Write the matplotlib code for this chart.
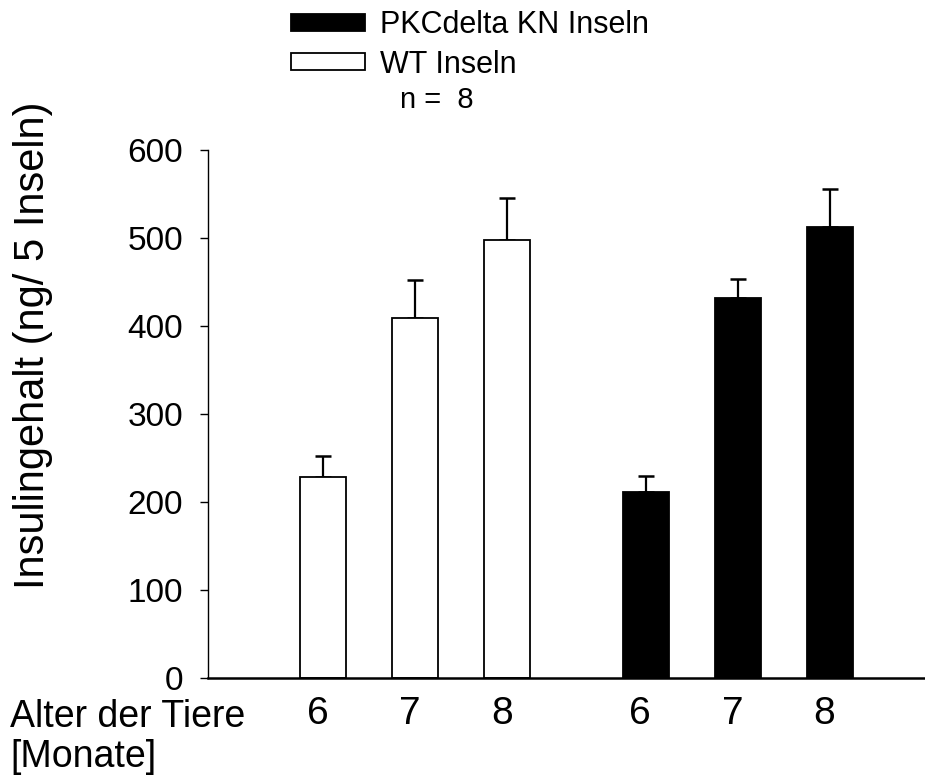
import numpy as np
import matplotlib
matplotlib.use("Agg")
import matplotlib.pyplot as plt

plt.rcParams['font.family'] = ['Liberation Sans', 'DejaVu Sans']

ages = ['6', '7', '8']
wt_means = [228, 409, 498]
wt_sem = [24, 43, 47]
kn_means = [211, 432, 513]
kn_sem = [18, 21, 43]

x_wt = np.arange(3)
x_kn = np.arange(3) + 3.5
bar_w = 0.5

fig = plt.figure(figsize=(9.25, 7.81), dpi=100)
ax = fig.add_axes([208/925, 103/781, 717/925, 528/781])

wt_bars = ax.bar(x_wt, wt_means, width=bar_w, color='white', edgecolor='black',
                 linewidth=1.3, label='WT Inseln', zorder=2)
kn_bars = ax.bar(x_kn, kn_means, width=bar_w, color='black', edgecolor='black',
                 linewidth=1.3, label='PKCdelta KN Inseln', zorder=2)
ax.errorbar(x_wt, wt_means, yerr=[np.zeros(3), wt_sem], fmt='none', ecolor='black',
            elinewidth=1.6, capsize=5.5, capthick=1.8, zorder=1)
ax.errorbar(x_kn, kn_means, yerr=[np.zeros(3), kn_sem], fmt='none', ecolor='black',
            elinewidth=1.6, capsize=5.5, capthick=1.8, zorder=1)

ax.set_ylim(0, 600)
ax.set_xlim(-1.247, 6.529)
ax.set_yticks([0, 100, 200, 300, 400, 500, 600])
ax.set_xticks(np.concatenate([x_wt, x_kn]) - 0.06)
ax.set_xticklabels(ages + ages)
ax.tick_params(axis='y', direction='out', length=6, width=1, labelsize=24, pad=12)
ax.tick_params(axis='x', length=0, labelsize=28, pad=13)

for s in ['top', 'right']:
    ax.spines[s].set_visible(False)
ax.spines['left'].set_linewidth(1)
ax.spines['bottom'].set_linewidth(1.8)

fig.text(33/925, 1 - 345/781, 'Insulingehalt (ng/ 5 Inseln)', rotation=90,
         ha='center', va='center', fontsize=30)
fig.text(10/925, 1 - 717/781, 'Alter der Tiere', ha='left', va='center', fontsize=27)
fig.text(10/925, 1 - 757/781, '[Monate]', ha='left', va='center', fontsize=27)

fig.legend(handles=[kn_bars, wt_bars], loc='upper left',
           bbox_to_anchor=(270/925, 1 + 11/781), frameon=False, fontsize=22,
           handlelength=2.4, handleheight=0.5, handletextpad=0.5, labelspacing=0.3,
           borderpad=0.2)
fig.text(400/925, 1 - 100/781, 'n =  8', ha='left', va='center', fontsize=21)

fig.savefig('out.png', dpi=100)
